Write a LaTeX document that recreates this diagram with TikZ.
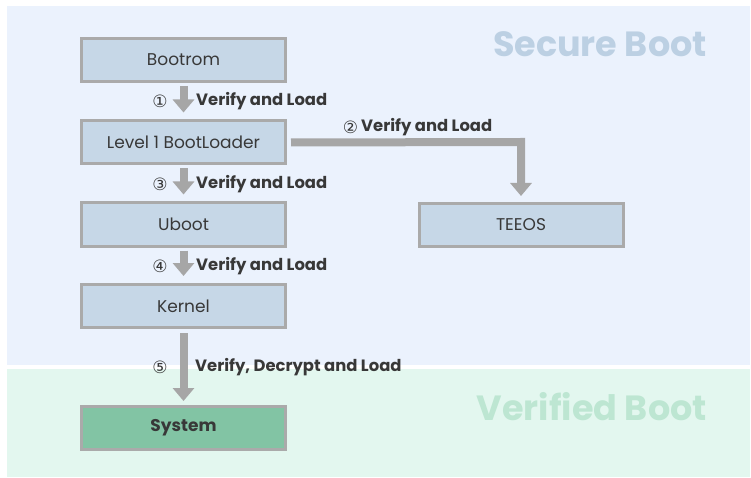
\documentclass[tikz,border=0pt]{standalone}
\usepackage{fontspec}
\setmainfont{Poppins}
\newfontfamily\numfont{DejaVu Sans}
\usetikzlibrary{arrows.meta}
\definecolor{securebg}{HTML}{EBF2FD}
\definecolor{verifbg}{HTML}{E3F7EF}
\definecolor{boxfill}{HTML}{C6D7E7}
\definecolor{sysfill}{HTML}{82C4A4}
\definecolor{edgegray}{HTML}{AAAAAA}
\definecolor{arrowgray}{HTML}{A6A6A6}
\definecolor{textdark}{HTML}{383838}
\definecolor{securetitle}{HTML}{BCD0E3}
\definecolor{verifytitle}{HTML}{BDE6D2}
\tikzset{
  bootbox/.style={draw=edgegray, line width=3pt, fill=boxfill, minimum width=204pt,
    minimum height=43pt, inner sep=0pt, text=textdark, font=\fontsize{17}{19}\selectfont},
  flow/.style={draw=arrowgray, line width=8pt,
    -{Triangle[width=21pt,length=13pt]}},
  steplabel/.style={anchor=west, text=textdark, font=\bfseries\fontsize{16.4}{18}\selectfont, inner sep=0pt},
  stepnum/.style={text=textdark, font=\numfont\fontsize{17}{18}\selectfont, inner sep=0pt},
  zonetitle/.style={anchor=east, font=\bfseries\fontsize{35}{38}\selectfont, inner sep=0pt}
}
\begin{document}
\begin{tikzpicture}[x=1pt, y=-1pt]
  \useasboundingbox (0,0) rectangle (751,478);
  % zones
  \fill[white] (0,0) rectangle (751,478);
  \fill[securebg] (7,6) rectangle (750,365);
  \fill[verifbg] (7,369) rectangle (750,477);
  \node[zonetitle, text=securetitle] (securet) at (707,44) {Secure Boot};
  \node[zonetitle, text=verifytitle] (verift) at (707,407) {Verified Boot};

  % boot stages
  \node[bootbox] (bootrom) at (183.5,60) {Bootrom};
  \node[bootbox] (lvl1) at (183.5,142.5) {Level 1 BootLoader};
  \node[bootbox] (uboot) at (183.5,224.5) {Uboot};
  \node[bootbox] (kernel) at (183.5,306) {Kernel};
  \node[bootbox, fill=sysfill, font=\bfseries\fontsize{17}{19}\selectfont] (system) at (183.5,428) {System};
  \node[bootbox] (teeos) at (521,225) {TEEOS};

  % arrows
  \draw[flow, shorten <=3pt, shorten >=7pt] (bootrom.south) -- (lvl1.north);
  \draw[flow, shorten <=3pt, shorten >=7pt] (lvl1.south) -- (uboot.north);
  \draw[flow, shorten <=3pt, shorten >=7pt] (uboot.south) -- (kernel.north);
  \draw[flow, shorten <=4pt, shorten >=4pt] (kernel.south) -- (system.north);
  \coordinate (bend) at (521,142);
  \draw[flow, shorten >=6pt] ([xshift=4pt]lvl1.east) -- (bend) -- (teeos.north);

  % step labels
  \node[stepnum] (n1) at (160,101) {①};
  \node[steplabel] (l1) at (196,101) {Verify and Load};
  \node[stepnum] (n2) at (350.5,127) {②};
  \node[steplabel] (l2) at (361,127) {Verify and Load};
  \node[stepnum] (n3) at (160,184) {③};
  \node[steplabel] (l3) at (196,184) {Verify and Load};
  \node[stepnum] (n4) at (160,266) {④};
  \node[steplabel] (l4) at (196,266) {Verify and Load};
  \node[stepnum] (n5) at (160,367) {⑤};
  \node[steplabel] (l5) at (195,367) {Verify, Decrypt and Load};
\end{tikzpicture}
\end{document}
